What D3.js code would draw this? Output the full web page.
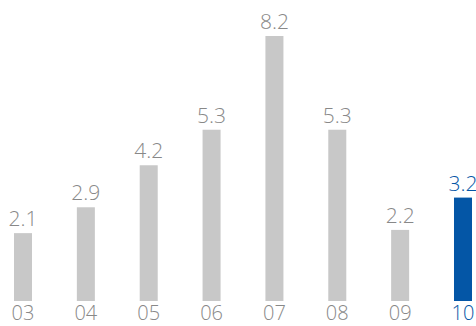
<!DOCTYPE html>
<html><head><meta charset="utf-8">
<script src="https://cdn.jsdelivr.net/npm/d3@7"></script>
<style>body{margin:0;background:#fff}svg{display:block}</style>
</head><body>
<script>
const categories = ["03","04","05","06","07","08","09","10"];
const values = [2.1, 2.9, 4.2, 5.3, 8.2, 5.3, 2.2, 3.2];
const highlight = ["10"];

const W = 476, H = 326;
const svg = d3.select("body").append("svg").attr("width", W).attr("height", H);
const baseY = 301;
const x = d3.scaleBand().domain(categories).range([14, 472]).paddingInner(0.7136).paddingOuter(0);
const y = d3.scaleLinear().domain([0, 8.2]).range([baseY, 36]);
const gray = "#c8c8c8", blue = "#0456a6", textGray = "#888888";
const font = "'Open Sans', 'Noto Sans', sans-serif";

svg.selectAll("rect.bar").data(categories).enter().append("rect")
  .attr("x", d => x(d)).attr("width", x.bandwidth())
  .attr("y", (d,i) => y(values[i])).attr("height", (d,i) => baseY - y(values[i]))
  .attr("fill", d => highlight.includes(d) ? blue : gray);

svg.selectAll("text.val").data(categories).enter().append("text")
  .attr("x", d => x(d) + x.bandwidth()/2).attr("y", (d,i) => y(values[i]) - 7)
  .attr("text-anchor", "middle").attr("font-family", font).attr("font-weight", 300)
  .attr("font-size", 21).attr("fill", d => highlight.includes(d) ? blue : textGray)
  .text((d,i) => values[i].toFixed(1));

const xAxis = d3.axisBottom(x).tickSize(0).tickPadding(0);
const ax = svg.append("g").attr("transform", `translate(0,${baseY})`).call(xAxis);
ax.select(".domain").remove();
ax.selectAll("text").attr("dy", null).attr("y", 19)
  .attr("font-family", font).attr("font-weight", 300).attr("font-size", 20)
  .attr("fill", d => highlight.includes(d) ? blue : textGray);
</script>
</body></html>
